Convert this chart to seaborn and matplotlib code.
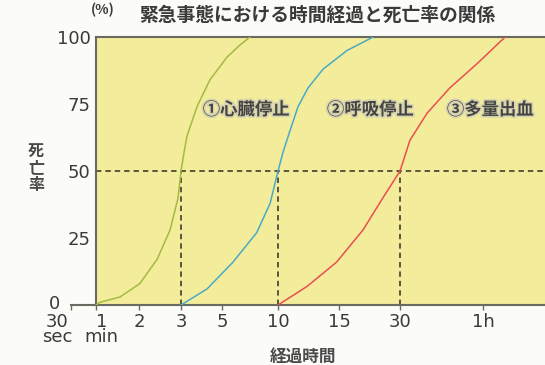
import numpy as np
import matplotlib
matplotlib.use("Agg")
import matplotlib.pyplot as plt
import matplotlib.patheffects as pe
import seaborn as sns

sns.set_theme(style="white")
plt.rcParams['font.family'] = ['Noto Sans CJK JP', 'DejaVu Sans']

# 経過時間(分) と 死亡率(%)
heart_min = [1.0, 1.09, 1.56, 2.02, 2.43, 2.74, 2.93, 3.0, 3.15, 3.29, 3.78, 4.41, 5.45, 6.6, 7.5]
heart_pct = [0, 1, 3, 8, 17, 28, 40, 50, 57, 63, 74, 84, 92.5, 97, 100]
breath_min = [3.0, 4.27, 5.98, 8.1, 9.3, 10.0, 10.41, 10.98, 11.64, 12.46, 13.69, 17.0, 23.4]
breath_pct = [0, 6, 16, 27, 38, 50, 57, 65, 74, 81, 88, 95, 100]
bleed_min = [10.0, 12.4, 14.8, 20.9, 25.8, 30.0, 33.6, 39.8, 48.0, 57.8, 68.0]
bleed_pct = [0, 7, 16, 28, 40, 50, 61.5, 71.6, 81, 90, 100]
half_min = [3, 10, 30]

series_names = ['①心臓停止', '②呼吸停止', '③多量出血']
series_colors = ['#a3ba45', '#4aaac4', '#ea4f4f']

x_ticks = [0.5, 1, 2, 3, 5, 10, 15, 30, 60]
x_labels = ['30', '1', '2', '3', '5', '10', '15', '30', '1h']
x_units = ['sec', 'min']
y_ticks = [25, 50, 75, 100]

# 目盛りの間隔が不均等なので区分線形の尺度を使う
scale_min = [0.5, 1, 2, 3, 5, 10, 15, 30, 60, 90]
scale_pos = [71, 96, 139, 181, 222, 278, 339, 400, 483, 566]


def fwd(x):
    return np.interp(x, scale_min, scale_pos)


def inv(p):
    return np.interp(p, scale_pos, scale_min)


x_right = 82.4
ink = '#3a3a3a'
edge = '#6a6a60'
num_font = ['DejaVu Sans']

fig = plt.figure(figsize=(5.45, 3.65), dpi=100, facecolor='#fbfbf8')
ax = fig.add_axes([71 / 545, 60 / 365, 474 / 545, 268 / 365])
ax.set_facecolor('none')
ax.set_xscale('function', functions=(fwd, inv))
ax.set_xlim(0.5, x_right)
ax.set_ylim(0, 100)

ax.axvspan(1, x_right, color='#f3ec9a', zorder=0, lw=0)

ax.hlines(50, 1, x_right, colors='#4d4b35', linestyles=(0, (3, 2.2)), lw=1.3, zorder=2)
ax.vlines(half_min, 0, 50, colors='#4d4b35', linestyles=(0, (3, 2.2)), lw=1.3, zorder=2)

for xs, ys, c in zip([heart_min, breath_min, bleed_min],
                     [heart_pct, breath_pct, bleed_pct], series_colors):
    sns.lineplot(x=xs, y=ys, color=c, lw=1.1, ax=ax, zorder=3, sort=False)

label_x = [0.278, 0.540, 0.793]
for name, lx in zip(series_names, label_x):
    ax.text(lx, 0.728, name, transform=ax.transAxes, ha='left', va='center',
            fontsize=12.5, fontweight='bold', color='#444444', zorder=4,
            path_effects=[pe.withStroke(linewidth=2.5, foreground='#d8d4b0')])

for s in ['left', 'top', 'bottom']:
    ax.spines[s].set_color(edge)
    ax.spines[s].set_linewidth(1.5)
ax.spines['right'].set_visible(False)
ax.spines['left'].set_position(('data', 1))
ax.spines['top'].set_bounds(1, x_right)

ax.set_yticks(y_ticks)
ax.set_yticklabels([str(v) for v in y_ticks], family=num_font)
ax.tick_params(axis='y', length=0, pad=4, labelsize=13, labelcolor=ink)

ax.set_xticks(x_ticks)
ax.set_xticklabels(['', ''] + x_labels[2:], family=num_font)
ax.tick_params(axis='x', bottom=True, direction='out', length=3.5, width=1,
               color=edge, pad=2.5, labelsize=13, labelcolor=ink)
ax.minorticks_off()

# 30 sec / 1 min の二段ラベル
for t, lab, unit, dx in zip(x_ticks[:2], x_labels[:2], x_units, [-10, 4]):
    ax.annotate(lab + '\n' + unit, xy=(t, 0), xycoords=ax.get_xaxis_transform(),
                xytext=(dx, -5.5), textcoords='offset points', ha='center', va='top',
                fontsize=13, color=ink, linespacing=0.8, family=num_font,
                annotation_clip=False)
ax.annotate('0', xy=(0.5, 0), xycoords='data', xytext=(-8, 1), textcoords='offset points',
            ha='right', va='center', fontsize=13, color=ink, family=num_font,
            annotation_clip=False)

fig.text(103 / 545, 1 - 10 / 365, '(%)', ha='center', va='center',
         fontsize=10, fontweight='bold', color=ink)
fig.text(139 / 545, 1 - 15 / 365, '緊急事態における時間経過と死亡率の関係', ha='left', va='center',
         fontsize=13.5, fontweight='bold', color=ink)
fig.text(36 / 545, 1 - 168 / 365, '死\n亡\n率', ha='center', va='center',
         fontsize=11.5, fontweight='bold', color='#4a4a4a', linespacing=1.1)
fig.text(303 / 545, 1 - 357 / 365, '経過時間', ha='center', va='center',
         fontsize=12, fontweight='bold', color='#4a4a4a')

fig.savefig('out.png', dpi=100, facecolor=fig.get_facecolor())
